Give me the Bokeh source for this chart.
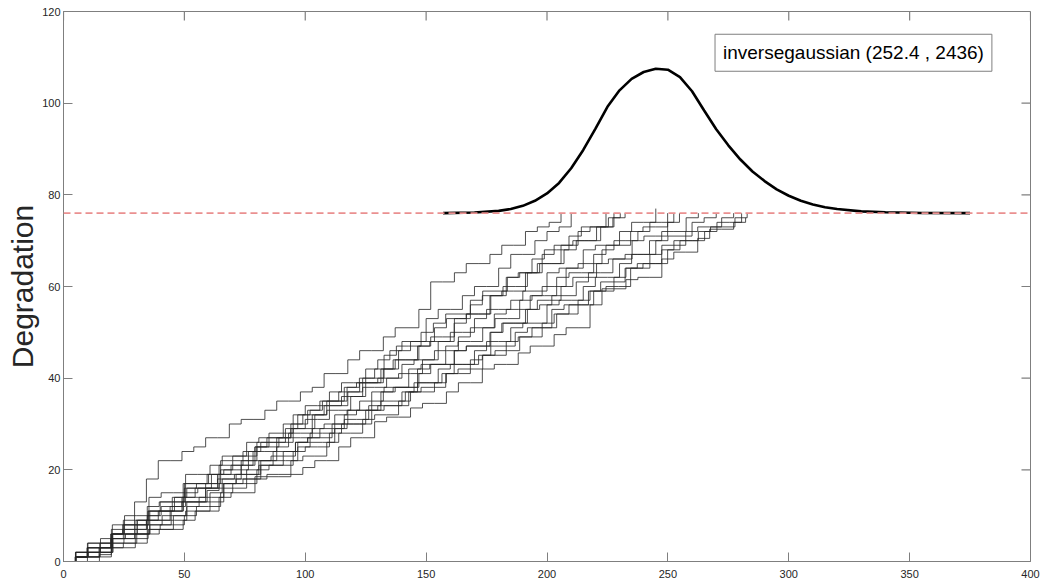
from bokeh.plotting import figure
from bokeh.models import Range1d, Span, Label, FixedTicker
from bokeh.embed import file_html
from bokeh.resources import INLINE

# ---------------- data ----------------
path_01 = [0, 1, 1, 4, 6, 6, 9, 11, 11, 14, 17, 17, 19, 22, 23, 23, 26, 28, 28, 32, 34,
           34, 37, 39, 39, 42, 44, 46, 48, 48, 53, 55, 55, 58, 60, 60, 64, 67, 67, 70, 72, 73, 76]
path_02 = [0, 1, 3, 3, 6, 8, 13, 18, 22, 22, 24, 25, 27, 27, 30, 31, 31, 33, 35, 35, 37,
           38, 41, 41, 44, 46, 46, 49, 51, 51, 55, 61, 61, 63, 65, 65, 67, 69, 69, 72, 73, 74, 76]
path_03 = [0, 2, 2, 5, 6, 6, 9, 11, 11, 14, 16, 16, 19, 20, 20, 24, 26, 26, 29, 32, 33,
           35, 35, 38, 40, 40, 45, 47, 47, 50, 52, 54, 54, 57, 59, 59, 62, 63, 66, 68, 68, 71, 73, 73, 76]
path_04 = [0, 1, 2, 2, 5, 7, 7, 10, 11, 11, 14, 16, 16, 19, 21, 21, 25, 27, 27, 30, 32,
           32, 35, 37, 37, 40, 42, 42, 46, 48, 48, 51, 53, 53, 56, 58, 58, 62, 63, 63, 67, 69, 69, 72, 73, 73, 76]
path_05 = [0, 2, 4, 4, 8, 10, 10, 14, 15, 15, 19, 19, 21, 23, 23, 26, 27, 27, 30, 30, 33,
           35, 35, 38, 39, 39, 42, 44, 44, 47, 48, 48, 52, 54, 54, 58, 60, 60, 63, 65, 65, 68, 70, 70, 73, 75, 76]
path_06 = [0, 1, 1, 3, 5, 5, 8, 9, 9, 12, 13, 13, 17, 19, 19, 22, 24, 24, 27, 28, 28,
           32, 34, 34, 37, 39, 39, 42, 44, 44, 47, 49, 49, 53, 54, 54, 58, 59, 59, 63, 65, 65, 69, 70, 70, 73, 75, 76]
path_07 = [0, 1, 3, 3, 6, 8, 8, 11, 13, 13, 16, 17, 17, 20, 22, 22, 25, 26, 26, 29, 31,
           31, 34, 36, 36, 39, 40, 40, 43, 44, 44, 48, 50, 50, 53, 55, 55, 57, 59, 59, 63, 64, 64, 68, 69, 69, 72, 74, 74, 77]
path_08 = [0, 1, 2, 2, 5, 6, 6, 8, 9, 9, 12, 13, 13, 17, 19, 19, 22, 24, 24, 26, 28,
           28, 32, 33, 33, 37, 38, 38, 42, 43, 43, 47, 48, 48, 51, 53, 53, 57, 58, 58, 62, 63, 63, 67, 69, 69, 72, 73, 73, 76]
path_09 = [0, 2, 4, 4, 7, 9, 9, 12, 13, 13, 17, 17, 19, 21, 21, 24, 25, 25, 27, 29, 29,
           32, 33, 33, 36, 38, 38, 40, 41, 41, 44, 46, 46, 49, 51, 51, 54, 55, 55, 58, 60,
           60, 64, 65, 65, 68, 70, 70, 72, 74, 74, 76]
path_10 = [0, 1, 1, 3, 4, 4, 6, 7, 7, 10, 11, 11, 15, 16, 16, 20, 21, 21, 24, 26, 27,
           29, 29, 32, 33, 33, 37, 38, 38, 42, 43, 43, 46, 47, 47, 50, 52, 52, 55, 56, 58,
           58, 61, 63, 63, 66, 67, 67, 70, 72, 72, 75, 76]
path_11 = [0, 1, 3, 3, 6, 7, 7, 9, 11, 11, 14, 14, 16, 18, 18, 21, 22, 22, 25, 27, 27,
           29, 30, 30, 33, 35, 35, 37, 38, 38, 41, 43, 43, 46, 47, 47, 50, 52, 52, 55, 57,
           57, 60, 62, 62, 65, 66, 66, 70, 71, 71, 74, 76]
path_12 = [0, 1, 2, 2, 4, 5, 5, 7, 8, 8, 10, 12, 12, 15, 17, 17, 20, 21, 21, 24, 25,
           25, 28, 30, 30, 33, 34, 34, 37, 39, 39, 42, 43, 43, 46, 48, 48, 51, 52, 52, 56,
           57, 57, 60, 62, 62, 65, 67, 67, 70, 71, 71, 74, 75, 76]
path_13 = [0, 1, 2, 2, 5, 6, 6, 9, 10, 10, 13, 14, 14, 17, 18, 18, 21, 22, 22, 25, 26,
           26, 29, 30, 30, 33, 34, 34, 37, 38, 38, 41, 42, 42, 45, 46, 46, 49, 51, 51, 54,
           56, 56, 59, 60, 60, 64, 65, 65, 68, 70, 70, 72, 74, 74, 76]
path_14 = [0, 0, 1, 1, 3, 4, 4, 6, 7, 7, 9, 11, 11, 14, 15, 15, 18, 19, 19, 22, 23,
           23, 26, 28, 28, 31, 32, 32, 35, 37, 37, 39, 41, 41, 44, 45, 45, 48, 49, 49, 52,
           54, 54, 57, 59, 59, 62, 64, 64, 67, 69, 69, 72, 73, 73, 75, 76]
path_15 = [0, 2, 3, 3, 6, 8, 8, 10, 12, 12, 15, 16, 16, 18, 19, 19, 22, 23, 23, 26, 27,
           27, 30, 31, 31, 34, 35, 35, 37, 39, 39, 41, 43, 43, 45, 47, 47, 50, 51, 51, 55,
           56, 56, 59, 61, 61, 64, 65, 65, 68, 70, 70, 72, 73, 73, 75, 76]
path_16 = [0, 0, 0, 1.5, 3, 3, 6, 8, 8, 11, 13, 13, 15.5, 17, 17, 18, 18.5, 18.5, 18.5, 19, 20.5,
           22, 22, 25, 27, 27, 30.5, 31.5, 31.5, 33.5, 34.5, 34.5, 37, 39, 39, 42, 43, 43, 45.5, 47, 47,
           49.5, 51, 51, 56, 59.5, 59.5, 61.5, 62, 62, 66, 67.5, 67.5, 70.5, 72.5, 72.5, 74, 75]

paths = [path_01, path_02, path_03, path_04, path_05, path_06, path_07, path_08,
         path_09, path_10, path_11, path_12, path_13, path_14, path_15, path_16]
# sampling interval (time units) of each path
path_steps = [5.0, 4.9, 5.1, 4.95, 5.05, 4.9, 5.0, 5.1, 4.95, 5.05, 4.9, 5.0, 5.1, 4.95, 5.05, 4.95]

threshold = 76

# fitted inverse-gaussian density (scaled, drawn on top of the threshold)
pdf_x = [157, 170, 180, 185, 190, 195, 200, 205, 210, 215, 220, 225, 230, 235, 240, 245, 250,
         255, 260, 265, 270, 275, 280, 285, 290, 295, 300, 305, 310, 315, 320, 330, 340, 355, 375]
pdf_y = [76.0, 76.15, 76.5, 76.9, 77.6, 78.7, 80.3, 82.6, 85.8, 89.8, 94.4, 99.2, 102.8, 105.3,
         106.8, 107.5, 107.3, 105.7, 102.6, 98.4, 94.3, 90.8, 87.7, 85.1, 83.0, 81.2, 79.8, 78.7,
         77.9, 77.3, 76.9, 76.4, 76.2, 76.05, 76.0]

legend_text = "inversegaussian (252.4 , 2436)"
x_ticks = [0, 50, 100, 150, 200, 250, 300, 350, 400]
y_ticks = [0, 20, 40, 60, 80, 100, 120]

# ---------------- figure ----------------
AX = "#7f7f7f"
TXT = "#262626"
FONT = "Liberation Sans"
X0, X1, Y0, Y1 = 0, 400, 0, 120
W, H = 1042, 586
ML, MR, MT, MB = 63, 12, 11, 25
TICK = 9

p = figure(width=W, height=H, output_backend="svg", toolbar_location=None,
           x_range=Range1d(X0, X1), y_range=Range1d(Y0, Y1),
           min_border_left=ML, min_border_right=MR, min_border_top=MT, min_border_bottom=MB)
p.background_fill_color = "white"
p.border_fill_color = "white"
p.outline_line_color = AX
p.grid.visible = False

for ax in (p.xaxis[0], p.yaxis[0]):
    ax.axis_line_color = AX
    ax.major_tick_line_color = AX
    ax.major_tick_in = TICK
    ax.major_tick_out = 0
    ax.minor_tick_line_color = None
    ax.major_label_text_font = FONT
    ax.major_label_text_font_size = "11px"
    ax.major_label_text_color = TXT

p.xaxis[0].ticker = FixedTicker(ticks=x_ticks)
p.yaxis[0].ticker = FixedTicker(ticks=y_ticks)
p.xaxis[0].major_label_standoff = 8
p.yaxis[0].major_label_standoff = 3
p.yaxis[0].axis_label = "Degradation"
p.yaxis[0].axis_label_text_font = FONT
p.yaxis[0].axis_label_text_font_size = "30px"
p.yaxis[0].axis_label_text_font_style = "normal"
p.yaxis[0].axis_label_text_color = TXT
p.yaxis[0].axis_label_standoff = 0

# mirrored ticks on top and right (box on), length in data units from the frame size
frame_w = W - ML - MR - 2
frame_h = H - MT - MB
tx = TICK * (X1 - X0) / frame_w
ty = TICK * (Y1 - Y0) / frame_h
p.segment(x0=x_ticks, y0=[Y1] * len(x_ticks), x1=x_ticks, y1=[Y1 - ty] * len(x_ticks),
          line_color=AX, line_width=1.2)
p.segment(x0=[X1] * len(y_ticks), y0=y_ticks, x1=[X1 - tx] * len(y_ticks), y1=y_ticks,
          line_color=AX, line_width=1.2)

# degradation paths
for vals, dt in zip(paths, path_steps):
    t = [i * dt for i in range(len(vals))]
    p.step(t, vals, mode="after", line_color="#262626", line_width=0.9, line_alpha=0.9)

# threshold
p.add_layout(Span(location=threshold, dimension="width", line_color="#ea9090",
                  line_width=1.6, line_dash="7 4"))

# inverse gaussian density
p.line(pdf_x, pdf_y, line_color="black", line_width=2.6)

# legend-like box
p.add_layout(Label(x=269.5, y=111, text=legend_text, text_font=FONT, text_font_size="19px",
                   text_color="black", text_baseline="middle", text_align="left",
                   border_line_color=AX, border_line_width=1,
                   background_fill_color="white", padding=8))

open("out.html", "w").write(file_html(p, INLINE))
